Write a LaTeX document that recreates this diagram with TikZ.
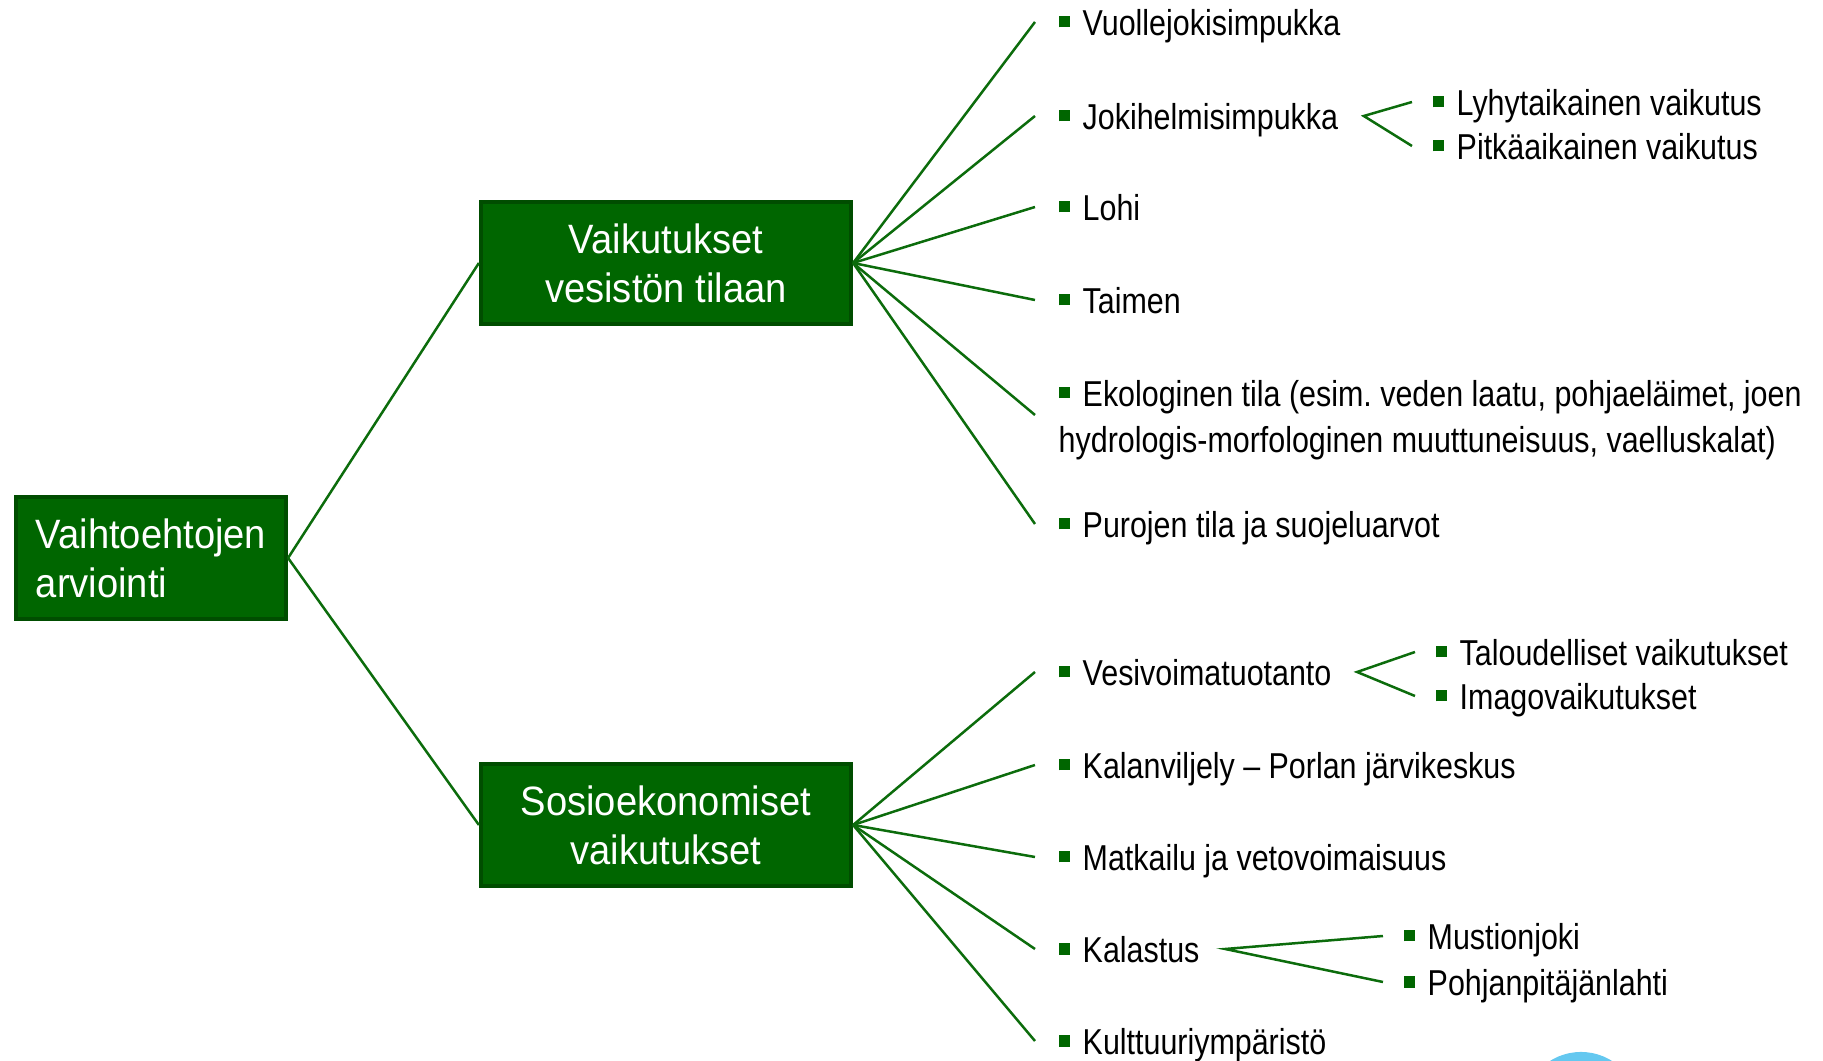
\documentclass[tikz,border=0pt]{standalone}
\usepackage{fontspec}
\usepackage{tikz}
\newfontfamily\leaffont[FakeStretch=0.845]{Liberation Sans}
\newfontfamily\boxfont[FakeStretch=0.93]{Liberation Sans}
\definecolor{forest}{RGB}{0, 102, 0}
\definecolor{darkforest}{RGB}{0, 77, 0}
\definecolor{branchgreen}{RGB}{12, 108, 12}
\definecolor{skyblue}{RGB}{100, 200, 240}
\newcommand{\bulsq}{{\color{forest}\rule[0.08cm]{0.11cm}{0.11cm}}\hspace{0.13cm}}
\frenchspacing

\begin{document}
\begin{tikzpicture}[x=0.01cm, y=-0.01cm,
    box/.style={draw=darkforest, fill=forest, line width=0.04cm, text=white, align=center,
        minimum width=3.70cm, minimum height=1.22cm, inner sep=0pt,
        font=\boxfont\fontsize{11.66pt}{13.9pt}\selectfont},
    leaf/.style={anchor=west, inner sep=0pt, text height=0.27cm, text depth=0cm,
        font=\leaffont\fontsize{10.24pt}{13.2pt}\selectfont},
    leafpar/.style={anchor=west, inner sep=0pt, align=left,
        font=\leaffont\fontsize{10.24pt}{13.2pt}\selectfont},
    twig/.style={draw=branchgreen, line width=0.025cm}]
    \useasboundingbox (0,0) rectangle (1823,1061);
    \begin{scope}
        \clip (0,0) rectangle (1823,1061);
        \fill[skyblue] (1581,1110) circle (0.58cm);
    \end{scope}

    % boxes
    \node[box, minimum width=2.70cm, align=left] (arv) at (151,558) {Vaihtoehtojen\\arviointi};
    \node[box] (ves) at (666,263) {Vaikutukset\\vesistön tilaan};
    \node[box] (sos) at (666,825) {Sosioekonomiset\\vaikutukset};

    % vesistö
    \node[leaf]     (vuo) at (1058,22)  {\bulsq Vuollejokisimpukka};
    \node[leaf]     (jok) at (1058,116) {\bulsq Jokihelmisimpukka};
    \node[leaf]     (loh) at (1058,207) {\bulsq Lohi};
    \node[leaf]     (tai) at (1058,300) {\bulsq Taimen};
    \node[leafpar]  (eko) at (1058,420) {\bulsq Ekologinen tila (esim. veden laatu, pohjaeläimet, joen\\hydrologis-morfologinen muuttuneisuus, vaelluskalat)};
    \node[leaf]     (pur) at (1058,524) {\bulsq Purojen tila ja suojeluarvot};
    \node[leaf]     (lyh) at (1432,102) {\bulsq Lyhytaikainen vaikutus};
    \node[leaf]     (pit) at (1432,146) {\bulsq Pitkäaikainen vaikutus};

    % sosioekonomiset
    \node[leaf]     (vvt) at (1058,672)  {\bulsq Vesivoimatuotanto};
    \node[leaf]     (kal) at (1058,765)  {\bulsq Kalanviljely – Porlan järvikeskus};
    \node[leaf]     (mat) at (1058,857)  {\bulsq Matkailu ja vetovoimaisuus};
    \node[leaf]     (kls) at (1058,949)  {\bulsq Kalastus};
    \node[leaf]     (kul) at (1058,1041) {\bulsq Kulttuuriympäristö};
    \node[leaf]     (tal) at (1435,652)  {\bulsq Taloudelliset vaikutukset};
    \node[leaf]     (ima) at (1435,696)  {\bulsq Imagovaikutukset};
    \node[leaf]     (mus) at (1403,936)  {\bulsq Mustionjoki};
    \node[leaf]     (poh) at (1403,982)  {\bulsq Pohjanpitäjänlahti};

    \coordinate (jokv) at ([xshift=0.25cm]jok.east);
    \coordinate (vvtv) at ([xshift=0.25cm]vvt.east);
    \coordinate (klsv) at ([xshift=0.25cm]kls.east);
    \coordinate (ekoend) at ([xshift=-0.23cm,yshift=0.05cm]eko.west);

    \draw[twig] (arv.east) -- (ves.west);
    \draw[twig] (arv.east) -- (sos.west);
    \foreach \leafname in {vuo,jok,loh,tai,pur}
        \draw[twig] (ves.east) -- ([xshift=-0.23cm]\leafname.west);
    \draw[twig] (ves.east) -- (ekoend);
    \foreach \leafname in {vvt,kal,mat,kls,kul}
        \draw[twig] (sos.east) -- ([xshift=-0.23cm]\leafname.west);
    \draw[twig] ([xshift=-0.2cm]lyh.west) -- (jokv) -- ([xshift=-0.2cm]pit.west);
    \draw[twig] ([xshift=-0.2cm]tal.west) -- (vvtv) -- ([xshift=-0.2cm]ima.west);
    \draw[twig] ([xshift=-0.2cm]mus.west) -- (klsv) -- ([xshift=-0.2cm]poh.west);
\end{tikzpicture}
\end{document}
